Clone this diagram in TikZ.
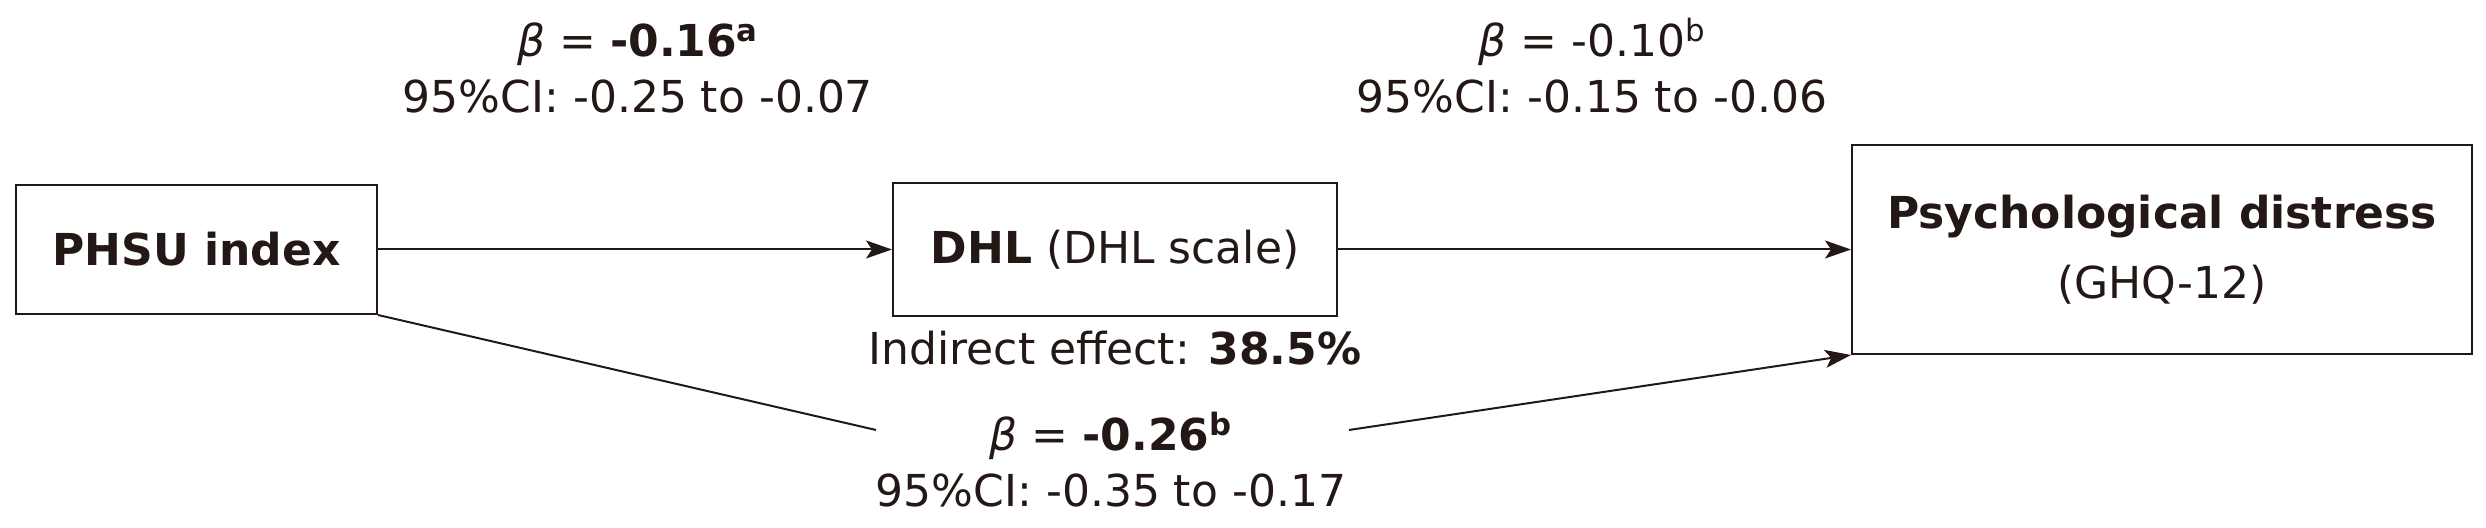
\documentclass[tikz,border=0pt]{standalone}
\usepackage{fontspec}
\setmainfont{DejaVu Sans}
\usepackage{tikz}
\usetikzlibrary{arrows.meta}
\definecolor{ink}{RGB}{35,24,21}
\tikzstyle{box} = [rectangle, draw=ink, line width=1pt, text=ink,
    align=center, font=\fontsize{22}{28}\selectfont]
\tikzstyle{lbl} = [text=ink, inner sep=0pt, align=center, anchor=base,
    font=\fontsize{22}{28}\selectfont]
\tikzstyle{line} = [draw=ink, line width=1pt]
\tikzstyle{arrow} = [draw=ink, line width=1pt, -{Stealth[length=13pt, width=9pt, inset=3pt]}]

\begin{document}
\begin{tikzpicture}[x=0.5pt, y=0.5pt]
            \useasboundingbox (0,0) rectangle (2486,528);
            \node (phsu) [box, minimum width=180.5pt, minimum height=64.5pt] at (196.5,278.5) {\textbf{PHSU index}};
            \node (dhl) [box, minimum width=222pt, minimum height=66.5pt] at (1115,278.5) {\textbf{DHL} (DHL scale)};
            \node (psy) [box, minimum width=310pt, minimum height=104.5pt] at (2162,278.5) {\textbf{Psychological distress}\\[7pt](GHQ-12)};

            % base anchor sits on the last line
            \node (alab) [lbl] at (638,415) {\textit{β} = \textbf{-0.16}\textsuperscript{\textbf{a}}\\95\%CI: -0.25 to -0.07};
            \node (blab) [lbl] at (1592,415) {\textit{β} = -0.10\textsuperscript{b}\\95\%CI: -0.15 to -0.06};
            \node (ind) [lbl] at (1115,163) {Indirect effect: \textbf{38.5\%}};
            \node (clab) [lbl] at (1111,21) {\textit{β} = \textbf{-0.26}\textsuperscript{\textbf{b}}\\95\%CI: -0.35 to -0.17};
            \coordinate (cl) at (876,98);
            \coordinate (cr) at (1349,98);

            \draw [arrow] (phsu) -- (dhl);
            \draw [arrow] (dhl) -- (psy);
            \draw [line] (phsu.south east) -- (cl);
            \draw [arrow] (cr) -- (psy.south west);
        \end{tikzpicture}
\end{document}
